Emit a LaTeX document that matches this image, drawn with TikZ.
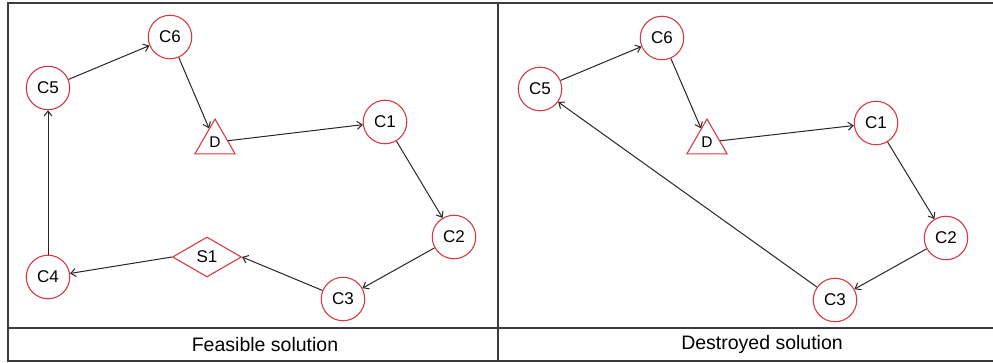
\documentclass[tikz,border=0pt]{standalone}
\usepackage{fontspec}
\setmainfont{Liberation Sans}
\usetikzlibrary{shapes.geometric,arrows.meta}
\definecolor{nodered}{RGB}{218,58,66}
\definecolor{framegray}{RGB}{60,60,60}
\tikzset{
  cust/.style={circle, draw=nodered, line width=1.1pt, minimum size=43.5pt, inner sep=0pt, font=\fontsize{17}{17}\selectfont},
  depot/.style={regular polygon, regular polygon sides=3, draw=nodered, line width=1.1pt, minimum size=46.5pt, inner sep=0pt, font=\fontsize{15.5}{15.5}\selectfont},
  station/.style={diamond, draw=nodered, line width=1.1pt, minimum width=69pt, minimum height=40pt, inner sep=0pt, font=\fontsize{17}{17}\selectfont},
  route/.style={draw=black!85, line width=1pt, -{Straight Barb[length=5pt,width=8pt]}},
  frame/.style={draw=framegray, line width=1.4pt},
  caption/.style={font=\fontsize{19.5}{19.5}\selectfont, inner sep=0pt}
}
\begin{document}
\begin{tikzpicture}[x=1pt,y=-1pt]
\useasboundingbox (0,0) rectangle (993,363);
% frame
\coordinate (tl) at (8,3);
\coordinate (tr) at (995,3);
\coordinate (bl) at (8,361);
\coordinate (br) at (995,361);
\coordinate (ml) at (8,328);
\coordinate (mr) at (995,328);
\coordinate (vt) at (498,3);
\coordinate (vb) at (498,361);
\draw[frame] (tr) -- (tl) -- (bl) -- (br);
\draw[frame] (ml) -- (mr);
\draw[frame] (vt) -- (vb);
\node[caption] (cap1) at (265,345) {Feasible solution};
\node[caption] (cap2) at (762,344) {Destroyed solution};
% left panel
\node[cust] (L6) at (170,37) {C6};
\node[cust] (L5) at (48,88) {C5};
\node[depot] (LD) at (215,142.3) {D};
\node[cust] (L1) at (385,122) {C1};
\node[cust] (L2) at (454,237) {C2};
\node[cust] (L3) at (343,299) {C3};
\node[station] (LS) at (207,257) {S1};
\node[cust] (L4) at (48,277) {C4};
\draw[route] (L5) -- (L6);
\draw[route] (L6) -- (LD);
\draw[route] (LD) -- (L1);
\draw[route] (L1) -- (L2);
\draw[route] (L2) -- (L3);
\draw[route] (L3) -- (LS.east);
\draw[route] (LS.west) -- (L4);
\draw[route] (L4) -- (L5);
% right panel
\node[cust] (R6) at (662,38) {C6};
\node[cust] (R5) at (540,89) {C5};
\node[depot] (RD) at (707,142.3) {D};
\node[cust] (R1) at (876,123) {C1};
\node[cust] (R2) at (946,238) {C2};
\node[cust] (R3) at (835,300) {C3};
\draw[route] (R5) -- (R6);
\draw[route] (R6) -- (RD);
\draw[route] (RD) -- (R1);
\draw[route] (R1) -- (R2);
\draw[route] (R2) -- (R3);
\draw[route] (R3) -- (R5);
\end{tikzpicture}
\end{document}
